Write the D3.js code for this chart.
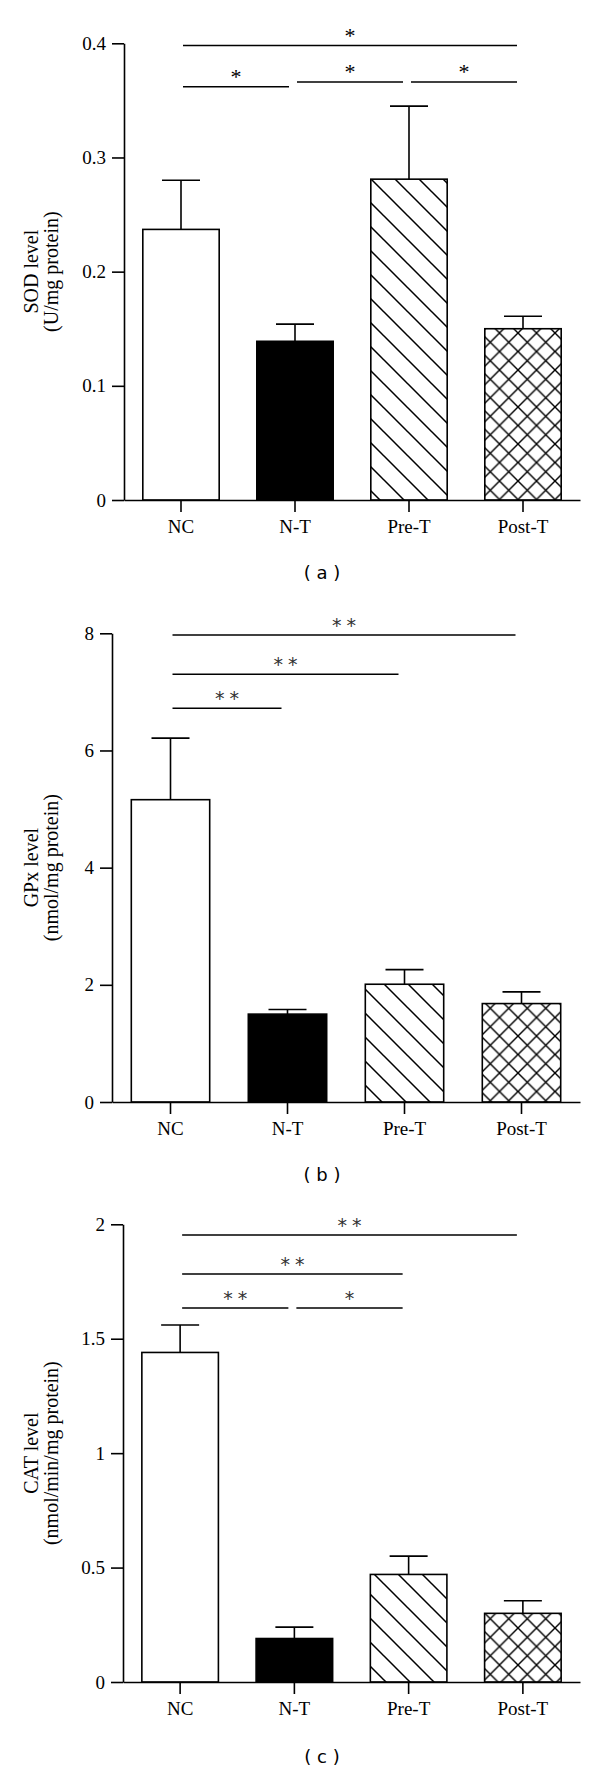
<!DOCTYPE html>
<html>
<head>
<meta charset="utf-8">
<script src="https://cdn.jsdelivr.net/npm/d3@7"></script>
<style>
  html, body { margin: 0; padding: 0; background: #fff; }
  svg { display: block; }
</style>
</head>
<body>
<div id="chart"></div>
<script>
// groups on the x axis
const categories = ["NC", "N-T", "Pre-T", "Post-T"];

// (a) SOD level
const sodMean = [0.237, 0.139, 0.281, 0.150];
const sodErr  = [0.043, 0.015, 0.064, 0.011];
const sodTicks  = [0, 0.1, 0.2, 0.3, 0.4];
const sodLabels = ["0", "0.1", "0.2", "0.3", "0.4"];
// significance bars: [from, to, level, mark]
const sodSig = [[0, 3, 0.398, "*"], [0, 1, 0.362, "*"], [1, 2, 0.366, "*"], [2, 3, 0.366, "*"]];

// (b) GPx level
const gpxMean = [5.16, 1.50, 2.01, 1.68];
const gpxErr  = [1.05, 0.08, 0.25, 0.20];
const gpxTicks  = [0, 2, 4, 6, 8];
const gpxLabels = ["0", "2", "4", "6", "8"];
const gpxSig = [[0, 3, 7.97, "**"], [0, 2, 7.30, "**"], [0, 1, 6.72, "**"]];

// (c) CAT level
const catMean = [1.44, 0.19, 0.47, 0.30];
const catErr  = [0.12, 0.05, 0.08, 0.055];
const catTicks  = [0, 0.5, 1, 1.5, 2];
const catLabels = ["0", "0.5", "1", "1.5", "2"];
const catSig = [[0, 3, 1.953, "**"], [0, 2, 1.783, "**"], [0, 1, 1.634, "**"], [1, 2, 1.634, "*"]];

const W = 600, H = 1772;
const serif = "'Liberation Serif', 'Times New Roman', serif";
const sans  = "'DejaVu Sans', Verdana, sans-serif";

const svg = d3.select("#chart").append("svg")
    .attr("width", W).attr("height", H);

// fills for the treated groups
const defs = svg.append("defs");
const diag = defs.append("pattern")
    .attr("id", "diag").attr("patternUnits", "userSpaceOnUse")
    .attr("width", 24).attr("height", 24);
diag.append("path").attr("d", "M-6,-6L30,30M-6,18L6,30M18,-6L30,6")
    .attr("stroke", "#000").attr("stroke-width", 1.5);
const cross = defs.append("pattern")
    .attr("id", "cross").attr("patternUnits", "userSpaceOnUse")
    .attr("width", 18.5).attr("height", 18.5);
cross.append("path").attr("d", "M0,0L18.5,18.5M18.5,0L0,18.5")
    .attr("stroke", "#000").attr("stroke-width", 1.4);

const fills = ["#fff", "#000", "url(#diag)", "url(#cross)"];

function panel(cfg) {
  const x = d3.scaleBand().domain(categories)
      .range([cfg.left, 580]).paddingInner(0.33).paddingOuter(0.165);
  const y = d3.scaleLinear().domain([0, cfg.max]).range([cfg.bottom, cfg.top]);
  const g = svg.append("g");

  // bars
  g.selectAll(".bar").data(cfg.mean).enter().append("rect")
      .attr("x", (d, i) => x(categories[i]))
      .attr("y", d => y(d))
      .attr("width", x.bandwidth())
      .attr("height", d => cfg.bottom - y(d))
      .attr("fill", (d, i) => fills[i])
      .attr("stroke", "#000").attr("stroke-width", 1.6);

  // error bars (upper only)
  const cx = i => x(categories[i]) + x.bandwidth() / 2;
  cfg.mean.forEach((m, i) => {
    const top = y(m + cfg.err[i]);
    g.append("line").attr("x1", cx(i)).attr("x2", cx(i))
        .attr("y1", y(m)).attr("y2", top);
    g.append("line").attr("x1", cx(i) - 19).attr("x2", cx(i) + 19)
        .attr("y1", top).attr("y2", top);
  });
  g.selectAll("line").attr("stroke", "#000").attr("stroke-width", 1.6);

  // significance lines
  cfg.sig.forEach(s => {
    const x1 = cx(s[0]) + 2, x2 = cx(s[1]) - 6, ly = y(s[2]);
    g.append("line").attr("x1", x1).attr("x2", x2).attr("y1", ly).attr("y2", ly)
        .attr("stroke", "#000").attr("stroke-width", 1.5);
    const sp = s[3].length > 1 ? 5 : 0;
    g.append("text").attr("x", (x1 + x2) / 2 + sp / 2).attr("y", ly - cfg.starDy)
        .attr("text-anchor", "middle")
        .style("font-family", cfg.starFont).style("font-size", cfg.starSize + "px")
        .style("letter-spacing", sp + "px")
        .attr("fill", cfg.starColor)
        .text(s[3]);
  });

  // y axis
  const ya = g.append("g").attr("transform", "translate(" + cfg.left + ",0)")
      .call(d3.axisLeft(y).tickValues(cfg.ticks)
        .tickFormat((d, i) => cfg.labels[i]).tickSize(12).tickSizeOuter(0).tickPadding(6));
  // x axis
  const xa = g.append("g").attr("transform", "translate(0," + cfg.bottom + ")")
      .call(d3.axisBottom(x).tickSize(12).tickSizeOuter(0).tickPadding(8));
  [ya, xa].forEach(a => {
    a.selectAll("path, line").attr("stroke", "#000").attr("stroke-width", 1.6);
    a.selectAll("text").style("font-family", serif).style("font-size", "19px").attr("fill", "#000");
  });
  xa.selectAll("text").attr("dy", "0.71em");

  // y title, two lines
  const mid = (cfg.top + cfg.bottom) / 2;
  cfg.title.forEach((t, k) => {
    g.append("text")
        .attr("transform", "translate(" + (38 + k * 20) + "," + mid + ") rotate(-90)")
        .attr("text-anchor", "middle")
        .style("font-family", serif).style("font-size", "20px")
        .text(t);
  });

  // panel letter
  g.append("text").attr("x", 322).attr("y", cfg.tag)
      .attr("text-anchor", "middle")
      .style("font-family", sans).style("font-size", "18px")
      .attr("xml:space", "preserve")
      .text(cfg.letter);
}

panel({ mean: sodMean, err: sodErr, ticks: sodTicks, labels: sodLabels, sig: sodSig,
        max: 0.4, left: 124, top: 43.3, bottom: 500, tag: 579, letter: "( a )",
        title: ["SOD level", "(U/mg protein)"],
        starFont: serif, starSize: 22, starDy: 3, starColor: "#000" });

panel({ mean: gpxMean, err: gpxErr, ticks: gpxTicks, labels: gpxLabels, sig: gpxSig,
        max: 8, left: 112, top: 633.3, bottom: 1102, tag: 1181, letter: "( b )",
        title: ["GPx level", "(nmol/mg protein)"],
        starFont: sans, starSize: 19, starDy: 3, starColor: "#333" });

panel({ mean: catMean, err: catErr, ticks: catTicks, labels: catLabels, sig: catSig,
        max: 2, left: 123, top: 1224.3, bottom: 1682, tag: 1763, letter: "( c )",
        title: ["CAT level", "(nmol/min/mg protein)"],
        starFont: sans, starSize: 19, starDy: 3, starColor: "#333" });
</script>
</body>
</html>
